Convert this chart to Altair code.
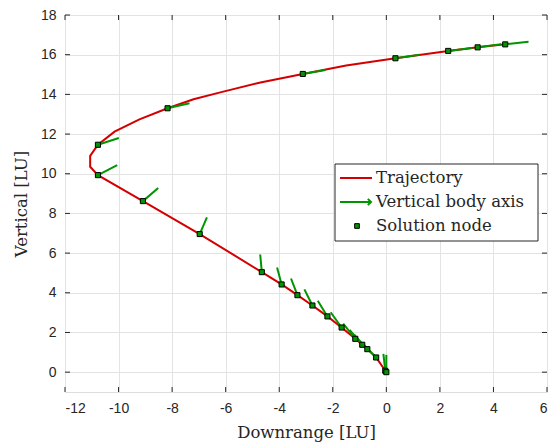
import altair as alt
import pandas as pd

# ---- data ----
traj_x = [4.44, 3.41, 2.31, 0.34, -1.5, -3.12, -4.7, -6.2, -7.2, -8.17, -9.22, -10.15,
          -10.77, -11.06, -11.06, -10.77, -9.09, -6.97, -4.65, -3.91, -3.32, -2.76,
          -2.20, -1.67, -1.16, -0.90, -0.71, -0.38, -0.04, 0.0]
traj_y = [16.52, 16.37, 16.19, 15.82, 15.45, 15.03, 14.6, 14.1, 13.75, 13.30, 12.74, 12.12,
          11.46, 10.9, 10.35, 9.93, 8.62, 6.96, 5.04, 4.42, 3.88, 3.36,
          2.81, 2.25, 1.68, 1.38, 1.16, 0.74, 0.07, 0.0]

node_x = [4.44, 3.41, 2.31, 0.34, -3.12, -8.17, -10.77, -10.77, -9.09, -6.97, -4.65,
          -3.91, -3.32, -2.76, -2.20, -1.67, -1.16, -0.90, -0.71, -0.38, -0.04, 0.0]
node_y = [16.52, 16.37, 16.19, 15.82, 15.03, 13.30, 11.46, 9.93, 8.62, 6.96, 5.04,
          4.42, 3.88, 3.36, 2.81, 2.25, 1.68, 1.38, 1.16, 0.74, 0.07, 0.0]
axis_u = [0.87, 0.88, 0.90, 0.90, 0.85, 0.82, 0.78, 0.72, 0.57, 0.27, -0.06,
          -0.17, -0.24, -0.30, -0.36, -0.41, -0.45, -0.47, -0.50, -0.52, -0.07, 0.0]
axis_v = [0.13, 0.15, 0.15, 0.18, 0.20, 0.25, 0.34, 0.50, 0.66, 0.84, 0.89,
          0.86, 0.84, 0.81, 0.79, 0.77, 0.76, 0.75, 0.74, 0.72, 0.85, 0.87]

x_ticks = list(range(-12, 7, 2))
y_ticks = list(range(0, 19, 2))
legend_labels = ["Trajectory", "Vertical body axis", "Solution node"]

RED = "#d40000"
GREEN = "#009400"
DARK = "#262626"
SERIF = "DejaVu Serif"
W, H = 482, 377

traj = pd.DataFrame({"x": traj_x, "y": traj_y, "o": range(len(traj_x))})
nodes = pd.DataFrame({"x": node_x, "y": node_y, "u": axis_u, "v": axis_v})
nodes["x2"] = nodes["x"] + nodes["u"]
nodes["y2"] = nodes["y"] + nodes["v"]

xs = alt.Scale(domain=[-12, 6], nice=False, zero=False)
ys = alt.Scale(domain=[-1, 18], nice=False, zero=False)

lab = "replace(datum.label, '\u2212', '-')"

xaxis = alt.Axis(values=x_ticks, title="Downrange [LU]", grid=True, gridColor="#e3e3e3",
                 domain=False, ticks=False, labelFont="Liberation Sans", labelFontSize=14,
                 labelColor=DARK, labelPadding=9, labelExpr=lab,
                 titleFont=SERIF, titleFontSize=16.5, titleFontWeight="normal",
                 titleColor=DARK, titlePadding=9)
yaxis = alt.Axis(values=y_ticks, title="Vertical [LU]", grid=True, gridColor="#e3e3e3",
                 domain=False, ticks=False, labelFont="Liberation Sans", labelFontSize=14,
                 labelColor=DARK, labelPadding=9, labelExpr=lab,
                 titleFont=SERIF, titleFontSize=16.5, titleFontWeight="normal",
                 titleColor=DARK, titlePadding=11)

base_grid = alt.Chart(pd.DataFrame({"x": [0.0], "y": [0.0]})).mark_point(opacity=0).encode(
    x=alt.X("x:Q", scale=xs, axis=xaxis), y=alt.Y("y:Q", scale=ys, axis=yaxis))

line = alt.Chart(traj).mark_line(color=RED, strokeWidth=2).encode(
    x=alt.X("x:Q", scale=xs), y=alt.Y("y:Q", scale=ys), order="o:Q")

vec = alt.Chart(nodes).mark_rule(color=GREEN, strokeWidth=2).encode(
    x=alt.X("x:Q", scale=xs), y=alt.Y("y:Q", scale=ys), x2="x2:Q", y2="y2:Q")

pts = alt.Chart(nodes).mark_point(shape="square", filled=True, fill=GREEN, stroke="black",
                                  strokeWidth=1, size=26, opacity=1).encode(
    x=alt.X("x:Q", scale=xs), y=alt.Y("y:Q", scale=ys))

# inner ticks (MATLAB style)
xt = pd.DataFrame({"t": x_ticks})
yt = pd.DataFrame({"t": y_ticks})
tb = alt.Chart(xt).mark_rule(color=DARK, strokeWidth=1).encode(
    x=alt.X("t:Q", scale=xs), y=alt.value(H), y2=alt.value(H - 5))
tt = alt.Chart(xt).mark_rule(color=DARK, strokeWidth=1).encode(
    x=alt.X("t:Q", scale=xs), y=alt.value(0), y2=alt.value(5))
tl = alt.Chart(yt).mark_rule(color=DARK, strokeWidth=1).encode(
    y=alt.Y("t:Q", scale=ys), x=alt.value(0), x2=alt.value(5))
tr = alt.Chart(yt).mark_rule(color=DARK, strokeWidth=1).encode(
    y=alt.Y("t:Q", scale=ys), x=alt.value(W), x2=alt.value(W - 5))

# legend
one = pd.DataFrame({"a": [0]})
lbox = alt.Chart(one).mark_rect(fill="white", stroke=DARK, strokeWidth=1).encode(
    x=alt.value(270), x2=alt.value(473), y=alt.value(149), y2=alt.value(226))
l1 = alt.Chart(one).mark_rule(color=RED, strokeWidth=2).encode(
    x=alt.value(275), x2=alt.value(307), y=alt.value(163))
l2 = alt.Chart(one).mark_rule(color=GREEN, strokeWidth=2).encode(
    x=alt.value(275), x2=alt.value(306), y=alt.value(187))
l2h = alt.Chart(one).mark_point(shape="M-1,-1L0,0L-1,1", color=GREEN, strokeWidth=2,
                                size=40, filled=False, opacity=1).encode(
    x=alt.value(306), y=alt.value(187))
l3 = alt.Chart(one).mark_point(shape="square", filled=True, fill=GREEN, stroke="black",
                               strokeWidth=1, size=22, opacity=1).encode(
    x=alt.value(292), y=alt.value(211))
ltexts = []
for i, lbl in enumerate(legend_labels):
    ltexts.append(
        alt.Chart(pd.DataFrame({"label": [lbl]})).mark_text(
            align="left", baseline="middle", font=SERIF, fontSize=16.5, color=DARK).encode(
            x=alt.value(311), y=alt.value(163 + 24 * i), text="label:N"))

chart = alt.layer(base_grid, line, vec, pts, tb, tt, tl, tr, lbox, l1, l2, l2h, l3,
                  *ltexts).properties(
    width=W, height=H,
    autosize=alt.AutoSizeParams(type="none"),
    padding={"left": 65, "top": 15, "right": 4, "bottom": 56},
).configure_view(stroke=DARK, strokeWidth=1).configure(background="white")

chart.save("out.html", embed_options={"renderer": "svg", "actions": False})
